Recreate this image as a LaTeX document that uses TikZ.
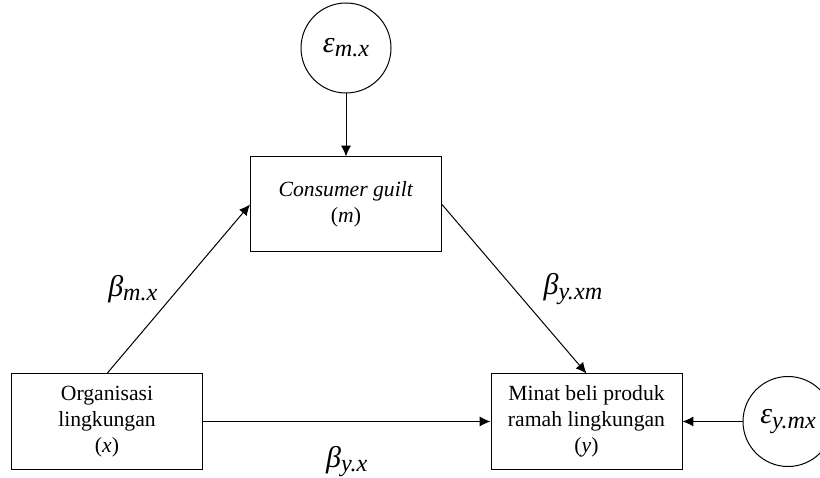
\documentclass[tikz,border=0pt]{standalone}
\usepackage{fontspec}
\setmainfont{Liberation Serif}[ItalicFont={Liberation Serif Italic}]
\usetikzlibrary{arrows.meta,positioning}

\newcommand{\coef}[2]{{\fontsize{18}{22}\selectfont\itshape #1\raisebox{-0.3ex}{\fontsize{14.5}{18}\selectfont #2}}}

\begin{document}
\begin{tikzpicture}[on grid,auto,line width=0.6pt,>={Latex[length=6.5pt,width=6pt]},
  var/.style={draw,minimum width=114.6pt,minimum height=57pt,align=center,
    inner sep=2pt,font=\fontsize{13}{15.5}\selectfont},
  err/.style={draw,circle,minimum size=54pt,inner sep=0pt}]
\clip (0,0) rectangle (492pt,286.2pt);
\node[var] (m) at (207.6pt,163.5pt) {\textit{Consumer guilt}\\(\textit{m})};
\node[err] (e_m) [above=93.9pt of m] {\coef{ε}{m.x}};
\node[var] (x) [below left=130.2pt and 143.4pt of m] {Organisasi\\lingkungan\\(\textit{x})};
\node[var] (y) [below right=130.2pt and 144.3pt of m] {Minat beli produk\\ramah lingkungan\\(\textit{y})};
\node[err] (e_y) [right=120.9pt of y] {\coef{ε}{y.mx}};
 \path[->]
(e_m) edge (m)
(x.north) edge node[pos=.5,left=9pt] {\coef{β}{m.x}} (m.west)
(m.east) edge node[pos=.5,right=14pt] {\coef{β}{y.xm}} (y.north)
(x) edge node[below=11pt] {\coef{β}{y.x}} (y)
(e_y) edge (y);
\end{tikzpicture}
\end{document}
